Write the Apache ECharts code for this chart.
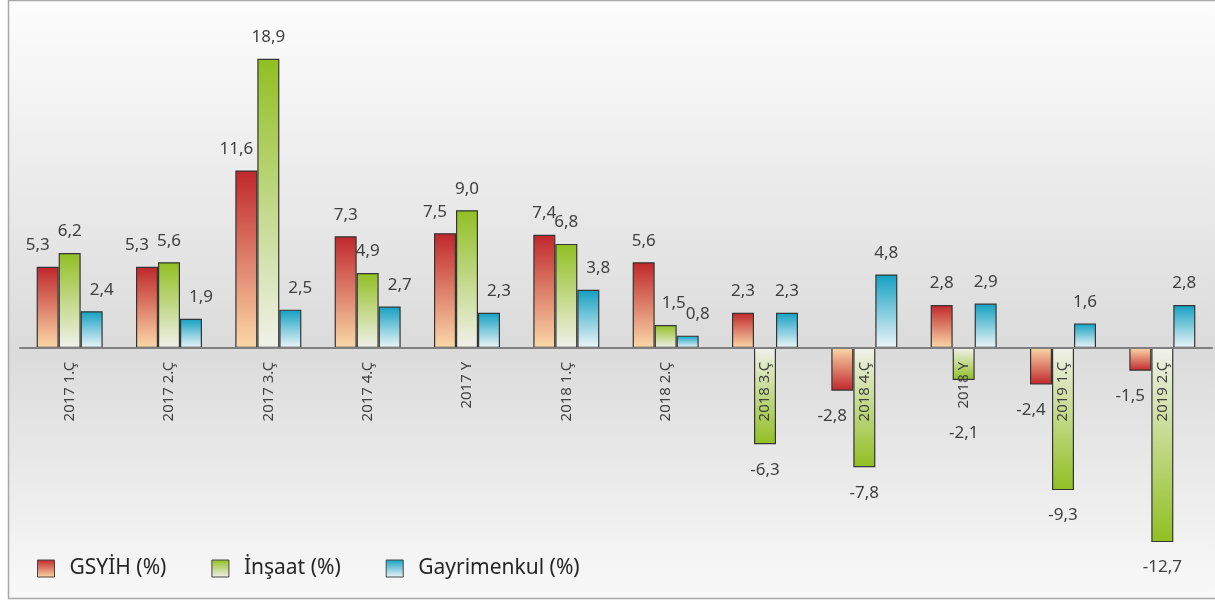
<!DOCTYPE html>
<html>
<head>
<meta charset="utf-8">
<script src="https://cdn.jsdelivr.net/npm/echarts@6/dist/echarts.min.js"></script>
<style>
  html, body { margin: 0; padding: 0; background: #ffffff; }
  #main { width: 1215px; height: 601px; }
</style>
</head>
<body>
<div id="main"></div>
<script>
// dönemler
const categories = ['2017 1.Ç', '2017 2.Ç', '2017 3.Ç', '2017 4.Ç', '2017 Y', '2018 1.Ç',
  '2018 2.Ç', '2018 3.Ç', '2018 4.Ç', '2018 Y', '2019 1.Ç', '2019 2.Ç'];
const gsyih = [5.3, 5.3, 11.6, 7.3, 7.5, 7.4, 5.6, 2.3, -2.8, 2.8, -2.4, -1.5];
const insaat = [6.2, 5.6, 18.9, 4.9, 9.0, 6.8, 1.5, -6.3, -7.8, -2.1, -9.3, -12.7];
const gayrimenkul = [2.4, 1.9, 2.5, 2.7, 2.3, 3.8, 0.8, 2.3, 4.8, 2.9, 1.6, 2.8];

const yMin = -14, yMax = 20;
const gridTop = 42, gridBottom = 39;
const pxPerUnit = (601 - gridTop - gridBottom) / (yMax - yMin);
const font = "'Noto Sans', 'DejaVu Sans', sans-serif";

const fmt = v => v.toFixed(1).replace('.', ',');

function grad(dark, light, neg) {
  return new echarts.graphic.LinearGradient(0, 0, 0, 1, neg
    ? [{offset: 0, color: light}, {offset: 1, color: dark}]
    : [{offset: 0, color: dark}, {offset: 1, color: light}]);
}

const palette = {
  red: ['#bf272b', '#fbd8a8'],
  green: ['#91bf22', '#f1f1eb'],
  blue: ['#12a0c2', '#eef5f8']
};

function makeData(values, colors, labelFn) {
  return values.map((v, i) => ({
    value: v,
    itemStyle: {color: grad(colors[0], colors[1], v < 0)},
    label: labelFn(v, i)
  }));
}

// excel etiket kaydırmaları: komşu etiket yolda ise yana kaydır
const redData = makeData(gsyih, palette.red, (v, i) => {
  const shift = (v < 0 || insaat[i] > v) ? -10 : 0;
  return {position: v < 0 ? 'bottom' : 'top', distance: v < 0 ? 17 : 13, offset: [shift, 0]};
});
const greenData = makeData(insaat, palette.green, (v, i) => {
  if (v >= 0) {
    const shift = Math.abs(v - gayrimenkul[i]) < 1.5 ? 8 : 0;
    return {position: 'top', distance: 13, offset: [shift, 0]};
  }
  return {position: 'bottom', distance: Math.max(17, 77 - Math.abs(v) * pxPerUnit)};
});
const blueData = makeData(gayrimenkul, palette.blue, (v, i) => ({
  position: v < 0 ? 'bottom' : 'top',
  distance: 13,
  offset: [insaat[i] > 0 ? 10 : 0, 0]
}));

const chart = echarts.init(document.getElementById('main'));

const barCommon = {
  type: 'bar',
  barWidth: 22,
  barGap: '0%',
  label: {
    show: true,
    fontFamily: font,
    fontSize: 17,
    color: '#404040',
    formatter: p => fmt(p.value)
  }
};

const option = {
  animation: false,
  textStyle: {fontFamily: font},
  graphic: [
    {
      type: 'rect',
      z: -10,
      silent: true,
      shape: {x: 8.5, y: 0.5, width: 1220, height: 598},
      style: {
        fill: new echarts.graphic.LinearGradient(0, 0, 0, 1, [
          {offset: 0, color: '#fdfdfd'},
          {offset: 0.58, color: '#dbdbdb'},
          {offset: 1, color: '#f9f9f9'}
        ]),
        stroke: '#a8a8a8',
        lineWidth: 1.5
      }
    }
  ],
  legend: {
    left: 32,
    top: 553,
    itemWidth: 17,
    itemHeight: 17,
    itemGap: 45,
    icon: 'rect',
    itemStyle: {borderColor: '#444', borderWidth: 1},
    textStyle: {fontFamily: font, fontSize: 21, color: '#262626', padding: [0, 0, 0, 10]},
    data: ['GSYİH (%)', 'İnşaat (%)', 'Gayrimenkul (%)']
  },
  grid: {left: 20, right: 3, top: gridTop, bottom: gridBottom, containLabel: false, outerBoundsMode: 'none'},
  xAxis: {
    type: 'category',
    data: categories,
    z: 10,
    // ekseni (çizgi + etiketler) sıfır seviyesine taşı
    offset: -(0 - yMin) * pxPerUnit,
    axisLine: {onZero: false, lineStyle: {color: '#7f7f7f', width: 2}},
    axisTick: {show: false},
    axisLabel: {
      interval: 0,
      rotate: 90,
      margin: 14,
      fontFamily: font,
      fontSize: 15,
      color: '#404040'
    }
  },
  yAxis: {
    type: 'value',
    min: yMin,
    max: yMax,
    show: false,
    splitLine: {show: false}
  },
  series: [
    Object.assign({}, barCommon, {
      name: 'GSYİH (%)',
      itemStyle: {color: grad(palette.red[0], palette.red[1], false), borderColor: '#353535', borderWidth: 1.2},
      data: redData
    }),
    Object.assign({}, barCommon, {
      name: 'İnşaat (%)',
      itemStyle: {color: grad(palette.green[0], palette.green[1], false), borderColor: '#353535', borderWidth: 1.2},
      data: greenData
    }),
    Object.assign({}, barCommon, {
      name: 'Gayrimenkul (%)',
      itemStyle: {color: grad(palette.blue[0], palette.blue[1], false), borderColor: '#353535', borderWidth: 1.2},
      data: blueData
    })
  ]
};

chart.setOption(option);
</script>
</body>
</html>
